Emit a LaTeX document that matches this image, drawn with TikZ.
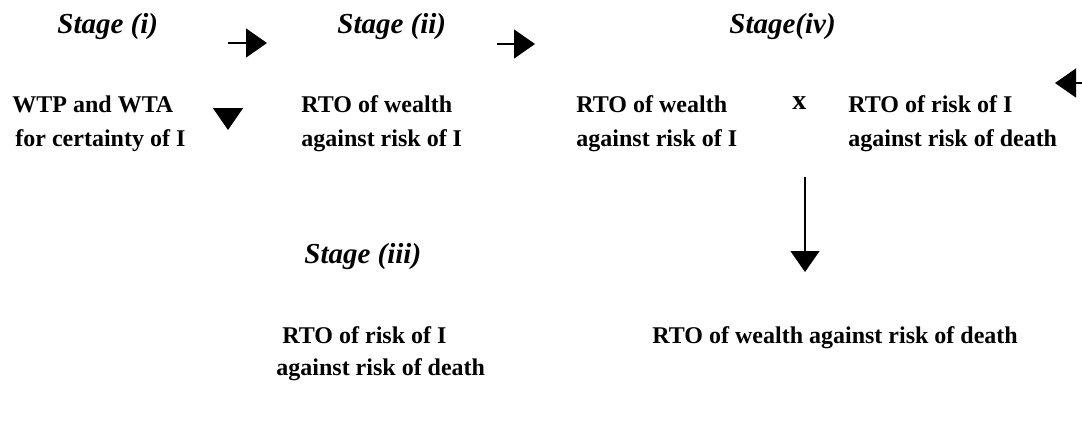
\documentclass[tikz,border=0pt]{standalone}
\usepackage{fontspec}
\setmainfont{Liberation Serif}
\usetikzlibrary{arrows.meta,positioning}
\tikzset{
  stagetitle/.style={anchor=base west, inner sep=0pt, font=\fontsize{14.5}{17}\selectfont\bfseries\itshape},
  stagetext/.style={anchor=base west, inner sep=0pt, font=\fontsize{12}{16}\selectfont\bfseries},
  flowarrow/.style={line width=0.6pt, -{Triangle[length=10.5pt,width=14.5pt]}}
}

\begin{document}
\begin{tikzpicture}[x=0.5pt,y=-0.5pt]
\useasboundingbox (0,0) rectangle (1082,425);

% stage titles
\node[stagetitle] (stagei)   at (57,33)  {Stage (i)};
\node[stagetitle] (stageii)  at (337,33) {Stage (ii)};
\node[stagetitle] (stageiv)  at (729,33) {Stage(iv)};
\node[stagetitle] (stageiii) at (304,263) {Stage (iii)};

% upper row
\node[stagetext] (wtpa) at (12,112)  {WTP and WTA};
\node[stagetext] (wtpb) at (15,146)  {for certainty of I};
\node[stagetext] (rtoia) at (301,112) {RTO of wealth};
\node[stagetext] (rtoib) at (301,146) {against risk of I};
\node[stagetext] (rtoiia) at (576,112) {RTO of wealth};
\node[stagetext] (rtoiib) at (576,146) {against risk of I};
\node[stagetext, font=\fontsize{14}{16}\selectfont\bfseries] (times) at (792,109) {x};
\node[stagetext] (rtoiiia) at (848,112) {RTO of risk of I};
\node[stagetext] (rtoiiib) at (848,146) {against risk of death};

% lower row
\node[stagetext] (riska) at (282,343) {RTO of risk of I};
\node[stagetext] (riskb) at (276,375) {against risk of death};
\node[stagetext] (result) at (652,343) {RTO of wealth against risk of death};

% arrows
\coordinate (ra1) at (228,43);  \coordinate (ra2) at (267,43);
\coordinate (rb1) at (497,44);  \coordinate (rb2) at (535,44);
\coordinate (la1) at (1082,83); \coordinate (la2) at (1055,83);
\coordinate (da1) at (228,108); \coordinate (da2) at (228,130);
\coordinate (db1) at (805,177); \coordinate (db2) at (805,272);
\draw[flowarrow] (ra1) -- (ra2);
\draw[flowarrow] (rb1) -- (rb2);
\draw[flowarrow] (la1) -- (la2);
\draw[flowarrow] (db1) -- (db2);
\draw[line width=0.6pt, -{Triangle[length=11pt,width=15pt]}] (da1) -- (da2);
\end{tikzpicture}
\end{document}
